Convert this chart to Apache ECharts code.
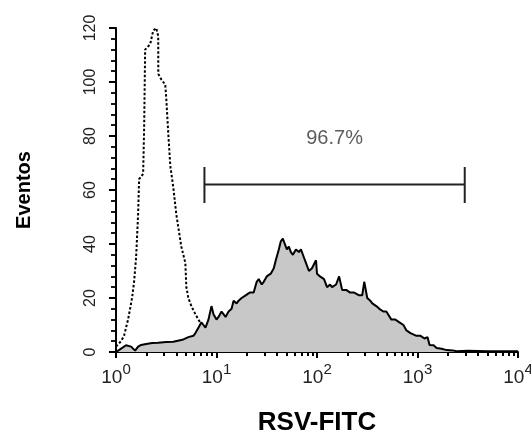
<!DOCTYPE html>
<html>
<head>
<meta charset="utf-8">
<script src="https://cdn.jsdelivr.net/npm/echarts@6/dist/echarts.min.js"></script>
<style>html,body{margin:0;padding:0;background:#fff;}#c{width:531px;height:436px;}</style>
</head>
<body>
<div id="c"></div>
<script>
// x positions are in decades: log10(RSV-FITC intensity)
const ctrlPos = [0.00,0.05,0.08,0.10,0.12,0.14,0.16,0.18,0.20,0.22,0.23,0.27,0.28,0.29,0.34,0.37,0.40,0.42,0.421,0.45,0.49,0.50,0.52,0.54,0.57,0.60,0.65,0.69,0.70,0.72,0.75,0.79,0.82,0.87,0.95,1.05,1.15];
const ctrlCount = [2,4,6,9,12,16,20,26,35,51,64,66,83,112,114,119,120,117,103,101,99,94,81,69,61,51,39,33,24,20,17,14,12,9,5,2,0];

const rsvPos = [0.00,0.04,0.10,0.15,0.19,0.22,0.25,0.30,0.36,0.42,0.50,0.57,0.66,0.72,0.77,0.79,0.82,0.85,0.87,0.89,0.92,0.95,0.97,1.00,1.02,1.05,1.09,1.12,1.15,1.17,1.20,1.22,1.25,1.29,1.33,1.37,1.40,1.42,1.45,1.47,1.50,1.54,1.57,1.59,1.62,1.64,1.66,1.68,1.70,1.72,1.74,1.76,1.79,1.82,1.84,1.87,1.90,1.92,1.95,1.99,2.00,2.03,2.07,2.10,2.13,2.15,2.19,2.22,2.25,2.29,2.33,2.37,2.42,2.45,2.47,2.50,2.53,2.55,2.59,2.62,2.66,2.69,2.74,2.78,2.82,2.86,2.89,2.93,2.99,3.03,3.07,3.10,3.12,3.16,3.19,3.24,3.29,3.35,3.39,3.50,3.70,3.90,4.00];
const rsvCount = [0,1,2.5,2,0.5,2,2.6,3,3.3,3.4,3.7,3.8,4.5,5.5,6,7,9,11,10,9,12,17,14,12,13,15,13,15,16,19,18,19,20,21,22,22,26,27,25,26,28,29,31,34,38,41,42,40,38,39,37,36,38,37,38,35,32,30,31,34,29,28,27,24,25,24,25,28,23,23,22,22,21,21,26,20,19,18,17,16,15,15,12,12,11,10,8,7,6,6,5,5.5,2.6,2.5,1.5,1.2,0.7,0.6,0.3,0.5,0.3,0.3,0.3];

const xDecades = [0,1,2,3,4];
const yTicks = [0,20,40,60,80,100,120];
const gateStart = 0.88, gateEnd = 3.47, gateY = 62, gateCapLow = 55.2, gateCapHigh = 68.5;
const gateLabel = '96.7%';
const xTitle = 'RSV-FITC';
const yTitle = 'Eventos';

const pair = (xs, ys) => xs.map((x, i) => [x, ys[i]]);
const minorX = [];
for (let d = 0; d < 4; d++) for (let k = 2; k <= 9; k++) minorX.push(d + Math.log10(k));

const FONT = 'Liberation Sans, Arial, sans-serif';
const chart = echarts.init(document.getElementById('c'), null, {renderer: 'canvas'});
chart.setOption({
  animation: false,
  backgroundColor: '#fff',
  grid: {left: 116, right: 13, top: 28, bottom: 84, containLabel: false, outerBoundsMode: 'none'},
  xAxis: [{
    type: 'value', min: 0, max: 4, interval: 1,
    splitLine: {show: false},
    axisLine: {lineStyle: {color: '#000', width: 2}},
    axisTick: {length: 6, lineStyle: {color: '#000', width: 2}},
    axisLabel: {
      margin: 10, color: '#222', fontFamily: FONT,
      formatter: v => '{b|10}{s|' + v + '}',
      rich: {
        b: {fontSize: 19, fontFamily: FONT, color: '#222', verticalAlign: 'bottom', lineHeight: 25},
        s: {fontSize: 15, fontFamily: FONT, color: '#222', verticalAlign: 'top', lineHeight: 15}
      }
    },
    name: xTitle, nameLocation: 'middle', nameGap: 58,
    nameTextStyle: {fontSize: 26, fontWeight: 'bold', color: '#000', fontFamily: FONT}
  }, {
    type: 'value', min: 0, max: 4, position: 'bottom',
    splitLine: {show: false}, axisLine: {show: false}, axisLabel: {show: false},
    axisTick: {show: true, length: 4, customValues: minorX, lineStyle: {color: '#000', width: 2}}
  }],
  yAxis: {
    type: 'value', min: 0, max: 120, interval: 20,
    splitLine: {show: false},
    axisLine: {show: true, lineStyle: {color: '#000', width: 2}},
    axisTick: {show: true, length: 7, lineStyle: {color: '#000', width: 2}},
    minorTick: {show: true, splitNumber: 5, length: 5, lineStyle: {color: '#000', width: 1.8}},
    axisLabel: {rotate: 90, margin: 17, fontSize: 16, color: '#222', fontFamily: FONT},
    name: yTitle, nameLocation: 'middle', nameGap: 82, nameRotate: 90,
    nameTextStyle: {fontSize: 20, fontWeight: 'bold', color: '#000', fontFamily: FONT}
  },
  series: [{
    type: 'line', data: pair(ctrlPos, ctrlCount), symbol: 'none', z: 2,
    lineStyle: {color: '#000', width: 2, type: [2.5, 2]}
  }, {
    type: 'line', data: pair(rsvPos, rsvCount), symbol: 'none', z: 3,
    lineStyle: {color: '#000', width: 2},
    areaStyle: {color: '#c8c8c8', opacity: 1}
  }, {
    type: 'line', symbol: 'none', z: 4, connectNulls: false,
    data: [[gateStart, gateCapHigh], [gateStart, gateCapLow], '-', [gateStart, gateY], [gateEnd, gateY], '-', [gateEnd, gateCapHigh], [gateEnd, gateCapLow]],
    lineStyle: {color: '#222', width: 2}
  }, {
    type: 'scatter', symbolSize: 0, z: 5,
    data: [[(gateStart + gateEnd) / 2, 79]],
    label: {show: true, position: 'inside', formatter: gateLabel, fontSize: 20, color: '#333', fontFamily: FONT}
  }]
});
</script>
</body>
</html>
